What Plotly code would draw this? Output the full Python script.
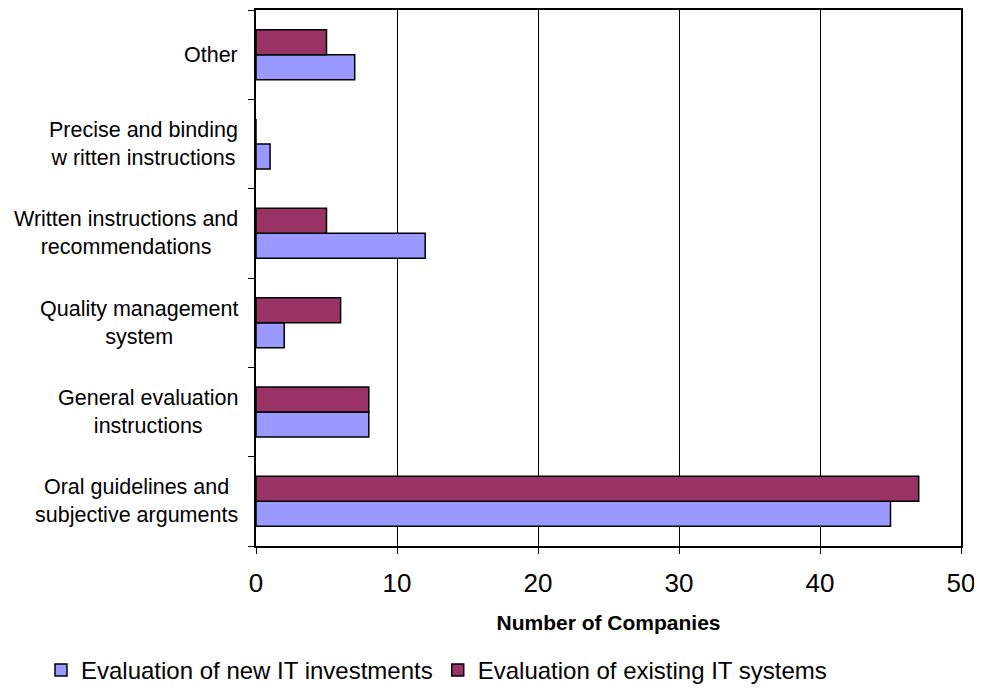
import plotly.graph_objects as go

categories = [
    "Oral guidelines and<br>subjective arguments",
    "General evaluation<br>instructions",
    "Quality management<br>system",
    "Written instructions and<br>recommendations",
    "Precise and binding<br>w ritten instructions",
    "Other",
]
new_it = [45, 8, 2, 12, 1, 7]
existing_it = [47, 8, 6, 5, 0, 5]
series_names = ["Evaluation of new IT investments", "Evaluation of existing IT systems"]
x_ticks = [0, 10, 20, 30, 40, 50]

FONT = "Liberation Sans, Arial, sans-serif"

fig = go.Figure()
fig.add_trace(go.Bar(
    y=categories, x=new_it, orientation="h", name=series_names[0],
    marker=dict(color="#9999FF", line=dict(color="black", width=1.5)),
))
fig.add_trace(go.Bar(
    y=categories, x=existing_it, orientation="h", name=series_names[1],
    marker=dict(color="#993366", line=dict(color="black", width=1.5)),
))

for c in categories:
    fig.add_annotation(
        x=0, xref="paper", y=c, yref="y", text=c, showarrow=False,
        xanchor="right", xshift=-16, align="center",
        font=dict(family=FONT, size=21.5, color="black"),
    )

fig.update_layout(
    width=974, height=680,
    margin=dict(l=248, r=21, t=2, b=142, autoexpand=False),
    paper_bgcolor="white", plot_bgcolor="white",
    barmode="group", bargap=0.44, bargroupgap=0,
    font=dict(family=FONT, color="black"),
    showlegend=True,
    legend=dict(
        orientation="h", x=-0.305, xanchor="left", y=-0.19, yanchor="top",
        font=dict(family=FONT, size=24, color="black"),
        traceorder="normal", itemwidth=30, tracegroupgap=0,
    ),
    xaxis=dict(
        range=[0, 50], tickvals=x_ticks, ticktext=[str(v) for v in x_ticks],
        showgrid=True, gridcolor="black", gridwidth=1,
        showline=True, linecolor="black", linewidth=1.5, mirror=True,
        ticks="outside", ticklen=6, tickcolor="black",
        ticklabelstandoff=7,
        tickfont=dict(family=FONT, size=26, color="black"),
        zeroline=False,
        title=dict(text="<b>Number of Companies</b>", font=dict(family=FONT, size=21, color="black"), standoff=18),
    ),
    yaxis=dict(
        type="category", categoryorder="array", categoryarray=categories,
        showticklabels=False,
        showline=True, linecolor="black", linewidth=1.5, mirror=True,
        ticks="outside", ticklen=6, tickcolor="black", tickson="boundaries",
        showgrid=False, zeroline=False,
    ),
)

fig.write_html("out.html")
